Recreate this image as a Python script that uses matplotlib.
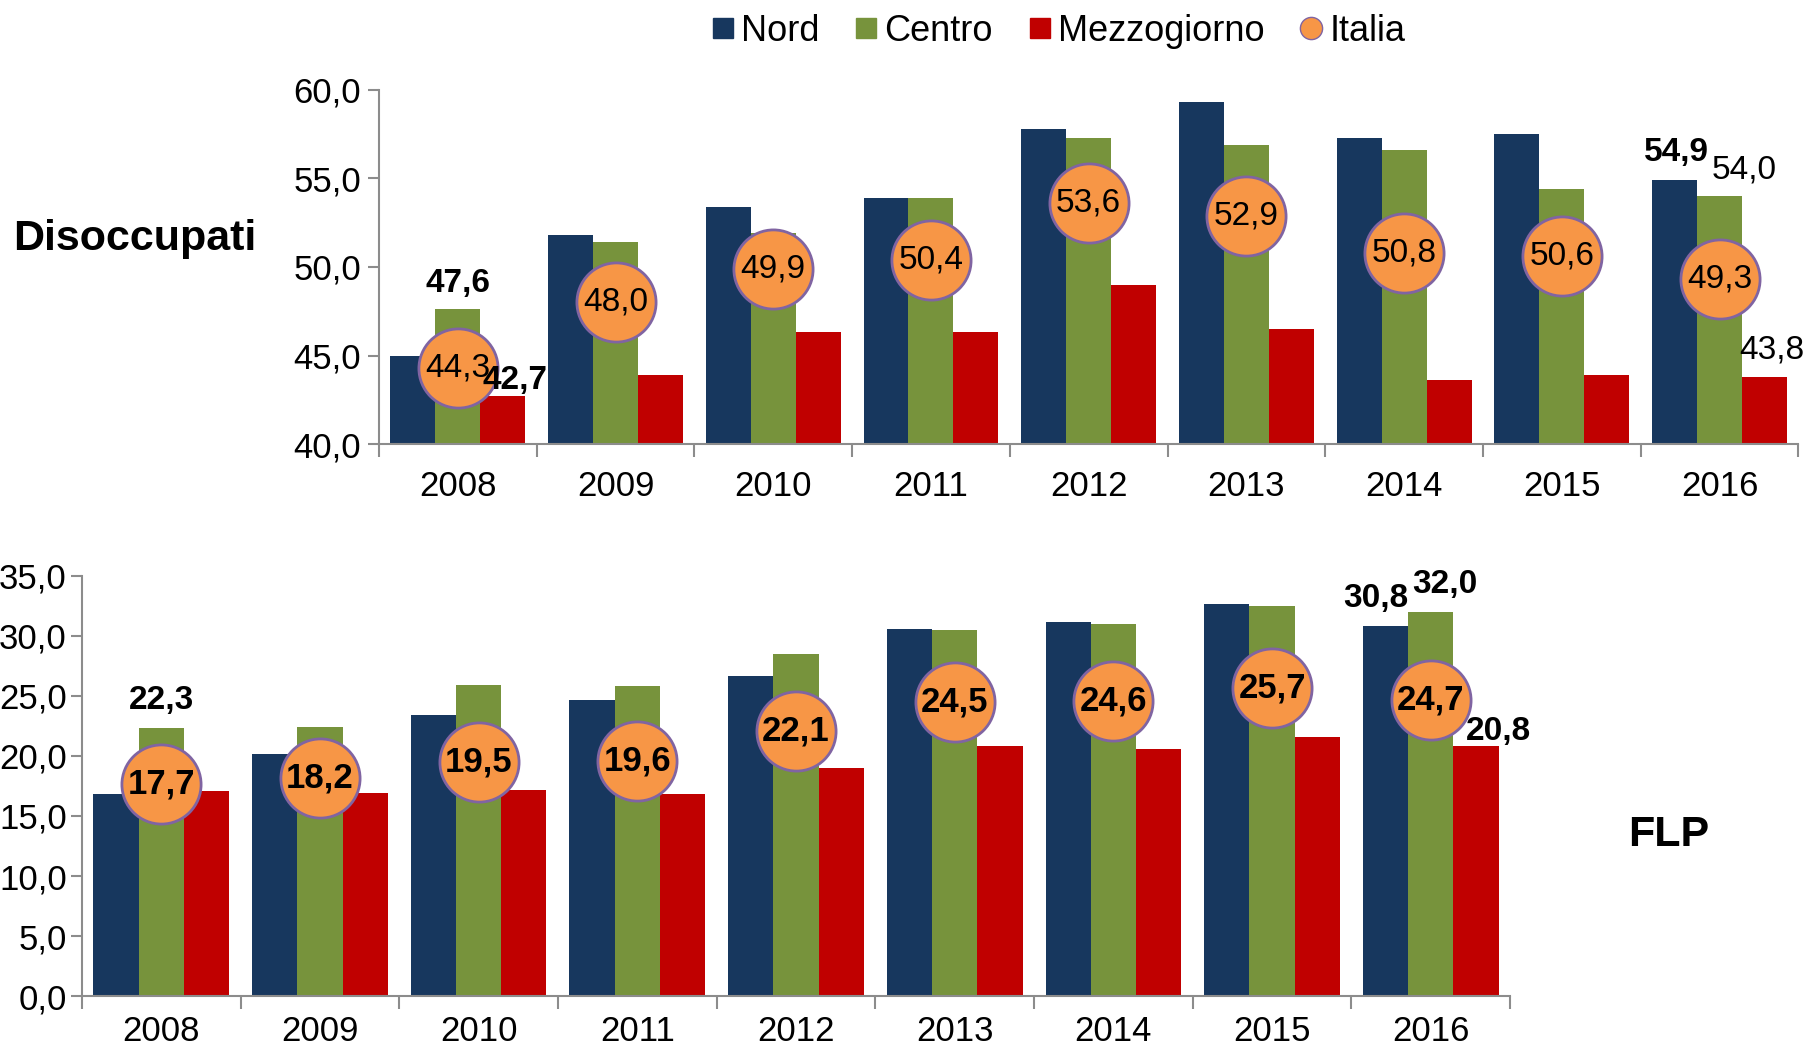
import numpy as np
import matplotlib
matplotlib.use("Agg")
import matplotlib.pyplot as plt
from matplotlib.lines import Line2D
from matplotlib.ticker import FuncFormatter, MultipleLocator

plt.rcParams['font.family'] = ['Liberation Sans', 'DejaVu Sans']

# Data
years = ['2008', '2009', '2010', '2011', '2012', '2013', '2014', '2015', '2016']
series = ['Nord', 'Centro', 'Mezzogiorno', 'Italia']

disocc_nord = [45.0, 51.8, 53.4, 53.9, 57.8, 59.3, 57.3, 57.5, 54.9]
disocc_centro = [47.6, 51.4, 51.9, 53.9, 57.3, 56.9, 56.6, 54.4, 54.0]
disocc_mezz = [42.7, 43.9, 46.3, 46.3, 49.0, 46.5, 43.6, 43.9, 43.8]
disocc_italia = [44.3, 48.0, 49.9, 50.4, 53.6, 52.9, 50.8, 50.6, 49.3]

flp_nord = [16.8, 20.2, 23.4, 24.7, 26.7, 30.6, 31.2, 32.7, 30.8]
flp_centro = [22.3, 22.4, 25.9, 25.8, 28.5, 30.5, 31.0, 32.5, 32.0]
flp_mezz = [17.1, 16.9, 17.2, 16.8, 19.0, 20.8, 20.6, 21.6, 20.8]
flp_italia = [17.7, 18.2, 19.5, 19.6, 22.1, 24.5, 24.6, 25.7, 24.7]

c_nord = '#17375E'
c_centro = '#77933C'
c_mezz = '#C00000'
c_italia = '#F79646'
c_edge = '#8064A2'
c_axis = '#8C8C8C'

comma = FuncFormatter(lambda v, p: f'{v:.1f}'.replace('.', ','))


def fmt(v):
    return f'{v:.1f}'.replace('.', ',')


def draw(ax, nord, centro, mezz, italia, ylim, circle_bold, xpad, ypad):
    x = np.arange(len(years))
    w = 0.285
    ax.bar(x - w, nord, w, color=c_nord, zorder=2)
    ax.bar(x, centro, w, color=c_centro, zorder=2)
    ax.bar(x + w, mezz, w, color=c_mezz, zorder=2)
    ax.plot(x, italia, 'o', color=c_italia, markersize=57,
            markeredgecolor=c_edge, markeredgewidth=2, zorder=3)
    for xi, v in zip(x, italia):
        ax.text(xi, v, fmt(v), ha='center', va='center', zorder=4,
                fontsize=25 if circle_bold else 24,
                weight='bold' if circle_bold else 'normal')
    ax.set_xlim(-0.5, len(years) - 0.5)
    ax.set_ylim(*ylim)
    ax.yaxis.set_major_locator(MultipleLocator(5))
    ax.yaxis.set_major_formatter(comma)
    ax.set_xticks(x)
    ax.set_xticklabels(years)
    ax.set_xticks(np.arange(-0.5, len(years)), minor=True)
    ax.tick_params(axis='x', which='major', length=0, labelsize=25, pad=xpad)
    ax.tick_params(axis='x', which='minor', length=9, color=c_axis, width=1.5)
    ax.tick_params(axis='y', length=8, color=c_axis, width=1.5, labelsize=25, pad=ypad)
    for s in ['top', 'right']:
        ax.spines[s].set_visible(False)
    for s in ['left', 'bottom']:
        ax.spines[s].set_color(c_axis)
        ax.spines[s].set_linewidth(1.5)
    return x, w


fig = plt.figure(figsize=(18.13, 10.51), dpi=100)

ax1 = fig.add_axes([0.209, 0.5775, 0.783, 0.337])
x, w = draw(ax1, disocc_nord, disocc_centro, disocc_mezz, disocc_italia, (40, 60), False, 19, 5)
ax1.annotate(fmt(disocc_centro[0]), (x[0], disocc_centro[0]), xytext=(0, 19),
             textcoords='offset points', ha='center', va='center', fontsize=24, weight='bold')
ax1.annotate(fmt(disocc_mezz[0]), (x[0] + w, disocc_mezz[0]), xytext=(9, 11),
             textcoords='offset points', ha='center', va='center', fontsize=24, weight='bold')
ax1.annotate(fmt(disocc_nord[8]), (x[8] - w, disocc_nord[8]), xytext=(1, 20),
             textcoords='offset points', ha='center', va='center', fontsize=24, weight='bold')
ax1.annotate(fmt(disocc_centro[8]), (x[8], disocc_centro[8]), xytext=(18, 19),
             textcoords='offset points', ha='center', va='center', fontsize=24)
ax1.annotate(fmt(disocc_mezz[8]), (x[8] + w, disocc_mezz[8]), xytext=(5, 19),
             textcoords='offset points', ha='center', va='center', fontsize=24)

ax2 = fig.add_axes([0.0452, 0.0523, 0.7877, 0.3997])
x, w = draw(ax2, flp_nord, flp_centro, flp_mezz, flp_italia, (0, 35), True, 14, 3)
ax2.annotate(fmt(flp_centro[0]), (x[0], flp_centro[0]), xytext=(0, 20),
             textcoords='offset points', ha='center', va='center', fontsize=24, weight='bold')
ax2.annotate(fmt(flp_nord[8]), (x[8] - w, flp_nord[8]), xytext=(-7, 20),
             textcoords='offset points', ha='center', va='center', fontsize=24, weight='bold')
ax2.annotate(fmt(flp_centro[8]), (x[8], flp_centro[8]), xytext=(10, 20),
             textcoords='offset points', ha='center', va='center', fontsize=24, weight='bold')
ax2.annotate(fmt(flp_mezz[8]), (x[8] + w, flp_mezz[8]), xytext=(16, 11),
             textcoords='offset points', ha='center', va='center', fontsize=24, weight='bold')

fig.text(0.007, 0.773, 'Disoccupati', fontsize=31, weight='bold', va='center')
fig.text(0.898, 0.2055, 'FLP', fontsize=31, weight='bold', va='center')

handles = [
    Line2D([], [], marker='s', linestyle='none', color=c_nord, markersize=15),
    Line2D([], [], marker='s', linestyle='none', color=c_centro, markersize=15),
    Line2D([], [], marker='s', linestyle='none', color=c_mezz, markersize=15),
    Line2D([], [], marker='o', linestyle='none', color=c_italia, markersize=16,
           markeredgecolor=c_edge, markeredgewidth=1),
]
fig.legend(handles, series, loc='upper center', bbox_to_anchor=(0.583, 1.018), ncol=4,
           frameon=False, fontsize=26, handletextpad=0.1, columnspacing=0.9,
           handlelength=0.8)

fig.savefig('out.png', dpi=100)
